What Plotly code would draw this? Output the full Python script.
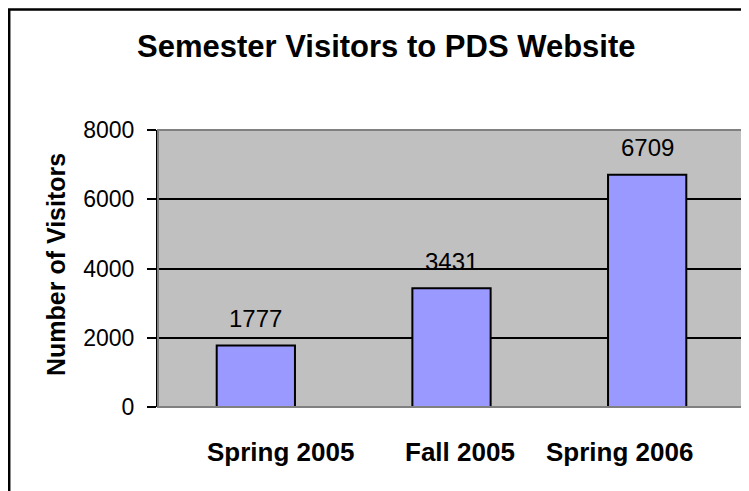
import plotly.graph_objects as go

semesters = ["Spring 2005", "Fall 2005", "Spring 2006"]
visitors = [1777, 3431, 6709]
y_ticks = [0, 2000, 4000, 6000, 8000]

title_text = "Semester Visitors to PDS Website"
y_title = "Number of Visitors"

label_xshift = [25, 8, -28]

# page has an 8px body margin; figure size/positions are in figure pixels
OFF = 8
W, H = 741, 483
ML, MR, MT, MB = 150, 4, 122, 84
pw = W - ML - MR
ph = H - MT - MB

def px_x(p):  # screen pixel -> paper
    return (p - OFF - ML) / pw

def px_y(p):
    return (H - MB - (p - OFF)) / ph

fig = go.Figure()
fig.add_trace(go.Bar(
    x=semesters, y=visitors, width=0.4,
    marker=dict(color="#9999FF", line=dict(color="black", width=2)),
    hoverinfo="skip",
))

font_fam = "Liberation Sans, Arial, sans-serif"

annotations = []
for s, v in zip(semesters, visitors):
    annotations.append(dict(x=s, y=v, xref="x", yref="y", text=str(v),
                            showarrow=False, yanchor="middle", yshift=27,
                            font=dict(family=font_fam, size=24, color="black")))
for s, dx in zip(semesters, label_xshift):
    annotations.append(dict(x=s, y=px_y(452), xref="x", yref="paper", text="<b>%s</b>" % s,
                            showarrow=False, yanchor="middle", xshift=dx,
                            font=dict(family=font_fam, size=26, color="black")))
annotations.append(dict(x=px_x(386), y=px_y(47), xref="paper", yref="paper",
                        text="<b>%s</b>" % title_text, showarrow=False,
                        xanchor="center", yanchor="middle",
                        font=dict(family=font_fam, size=31, color="black")))
annotations.append(dict(x=px_x(56), y=px_y(265), xref="paper", yref="paper",
                        text="<b>%s</b>" % y_title, showarrow=False, textangle=-90,
                        xanchor="center", yanchor="middle",
                        font=dict(family=font_fam, size=25, color="black")))

shapes = [
    dict(type="rect", xref="paper", yref="paper", x0=0, y0=0, x1=1, y1=1,
         line=dict(color="#808080", width=2), layer="above"),
    dict(type="rect", xref="paper", yref="paper",
         x0=px_x(9.2), y0=px_y(600), x1=px_x(900), y1=px_y(9.5),
         line=dict(color="black", width=2.5), layer="above"),
]

fig.update_layout(
    width=W, height=H,
    margin=dict(l=ML, r=MR, t=MT, b=MB),
    paper_bgcolor="white", plot_bgcolor="#C0C0C0",
    showlegend=False,
    annotations=annotations,
    shapes=shapes,
    font=dict(family=font_fam, color="black"),
)
fig.update_xaxes(showticklabels=False, ticks="", showgrid=False, zeroline=False,
                 showline=False, range=[-0.5, 2.5])
fig.update_yaxes(range=[0, 8000], tickvals=y_ticks, ticks="outside", ticklen=9,
                 tickwidth=2, tickcolor="black", showgrid=True, gridcolor="black",
                 gridwidth=2, zeroline=False, showline=True, linecolor="black",
                 linewidth=2, ticklabelstandoff=8,
                 tickfont=dict(family=font_fam, size=23, color="black"))

fig.write_html("out.html")
